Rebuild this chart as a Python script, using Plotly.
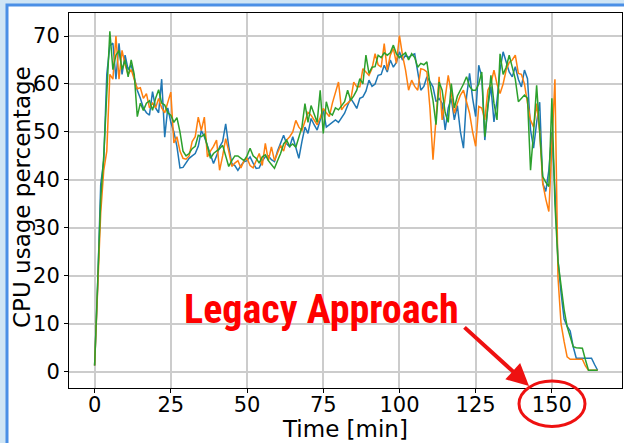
import plotly.graph_objects as go

minutes = list(range(0, 166))

cpu_blue = [
    1.3, 18, 39, 44, 62, 68, 68.5, 61, 68.5, 62,
    66, 63, 64, 61, 58.7, 57, 55, 54, 53.5, 58.4,
    55, 54, 61, 48.9, 55, 52, 50, 47, 42.5, 42.6,
    43.5, 44.5, 45, 45.5, 47, 50.3, 49, 47, 45, 43.4,
    45, 46.9, 48, 51.7, 47, 43.4, 43, 42, 43, 43.8,
    44, 44.8, 43.5, 42.4, 42.5, 44, 44.8, 45, 44.2, 43.8,
    46, 47.5, 49.3, 47.5, 46.9, 49, 47, 44.5, 48, 51,
    49.7, 52.8, 51.5, 50.4, 52.5, 54.6, 51, 51.5, 52, 52.5,
    52, 53, 53.9, 55.5, 57, 56, 54.9, 57, 57.3, 58.5,
    60.8, 59.5, 60, 61.8, 62, 63.9, 62.5, 65, 63.5, 64.5,
    66.7, 65, 66, 65.5, 66, 66.3, 62.9, 58.7, 59.5, 61.5,
    60.5, 59.4, 56.3, 57, 56, 50.4, 55, 57, 52.5, 55.5,
    50, 46.6, 57.3, 62.2, 57, 53.2, 63.9, 61.5, 48.3, 55.3,
    59.5, 52.1, 56.6, 63, 66.7, 64.3, 62.5, 61.5, 63.6, 61,
    59.4, 62.9, 61.1, 50.4, 46.6, 52, 56.2, 39.3, 37.6, 42,
    50, 38, 23.3, 16.5, 11, 9.5, 8.5, 5.2, 2.8, 2.8,
    2.8, 2.8, 2.8, 2.8, 1.5, 0.3,
]

cpu_orange = [
    1.3, 16, 33, 42, 46, 62, 61, 70, 61, 67,
    64, 62, 63, 61, 59, 59.2, 57, 58, 55, 56,
    55, 57, 55, 54, 56, 58.3, 47.7, 49, 46, 44.5,
    44.3, 45, 48, 49, 53.1, 50.3, 53.1, 44.8, 46, 47,
    48.3, 42, 45, 48.6, 46, 42.8, 43.5, 44, 42.5, 44,
    44.5, 43, 42.5, 44, 45.5, 43, 47.6, 44, 46.9, 44,
    45.5, 47.2, 46, 48.3, 49, 50, 52.4, 51, 50.3, 52,
    54.1, 53.5, 52.4, 51.5, 53, 54.9, 54, 53.2, 56, 58,
    60.4, 54.6, 55.5, 56, 56.6, 60.4, 59.4, 59.4, 63.2, 62.5,
    61.8, 63.2, 66.3, 64, 63.5, 68.4, 62.9, 66, 67.4, 64.3,
    70.1, 66, 62.9, 58.7, 60.8, 59.5, 58.7, 63.2, 63, 62.5,
    55, 44.2, 52.5, 61.5, 52.5, 57, 61.8, 58, 53.9, 56,
    57.7, 58.7, 56, 53.9, 50, 47, 55.3, 55, 52.5, 58.7,
    60, 62.9, 60, 58, 60, 62.9, 64.5, 65, 66, 62.2,
    62, 60, 56, 52.5, 51, 55.9, 50, 39.3, 36, 33.4,
    47, 61, 19.7, 10, 6.3, 3.1, 2.6, 2.6, 2.6, 2.6,
    2.6, 1.2, 0.3, 0.3, 0.3, 0.3,
]

cpu_green = [
    1.3, 17, 36, 45, 58, 71, 63, 66, 67, 63,
    65, 61.5, 65, 62, 53.2, 56, 54.5, 56, 56.5, 54.5,
    57, 58.8, 56, 55.6, 54, 53.5, 52, 53, 50, 46,
    45, 45.5, 46.5, 47, 49.3, 49, 49.5, 47, 44.5, 45.5,
    46, 46.5, 47.2, 45, 42.8, 44, 45, 45, 44.5, 44,
    45, 46.6, 45, 44.5, 43.5, 44.8, 45.2, 44, 43.2, 42.4,
    44, 45.5, 47.5, 48.3, 47, 47.5, 46.8, 49, 51, 55.9,
    52, 55.5, 53.5, 52, 58.7, 49.7, 56.3, 54, 53.5, 55,
    54.6, 55.5, 56.3, 58.7, 56.6, 57.5, 58.7, 61.1, 60, 66,
    62.2, 63.5, 63.6, 66, 65.5, 66.5, 66, 66.5, 68.1, 66.3,
    65.5, 66, 66.5, 65, 66.3, 65.5, 63.5, 64.3, 64, 64.6,
    60, 56.6, 51.5, 60.4, 58.7, 54, 52, 60.1, 55, 57.5,
    58.7, 60, 61.5, 59.5, 58.7, 58.7, 60, 62.5, 49, 55,
    61.8, 56, 52.5, 66.3, 62, 63.5, 66, 63.5, 61, 56.3,
    57, 57.7, 57, 42, 50, 59.7, 50, 40.7, 39.5, 38.6,
    57, 35, 23, 18, 13, 9.4, 7.5, 5.2, 5, 5,
    4.9, 2.5, 0.3, 0.3, 0.3, 0.3,
]

x_ticks = [0, 25, 50, 75, 100, 125, 150]
y_ticks = [0, 10, 20, 30, 40, 50, 60, 70]

W, H = 624, 443
L, R, T, B = 69, 2, 13, 55
pw, ph = W - L - R, H - T - B


def px(xp):
    return (xp - L) / pw


def py(yp):
    return (H - B - yp) / ph


fig = go.Figure()
for vals, col in [(cpu_blue, "#1f77b4"), (cpu_orange, "#ff7f0e"), (cpu_green, "#2ca02c")]:
    fig.add_trace(go.Scatter(x=minutes, y=vals, mode="lines",
                             line=dict(color=col, width=1.5), showlegend=False))

axis_common = dict(showline=True, linecolor="black", linewidth=1, mirror=True,
                   showgrid=True, gridcolor="#cccccc", gridwidth=1.5,
                   ticks="outside", ticklen=4, tickcolor="black",
                   tickfont=dict(family="DejaVu Sans", size=21, color="black"),
                   zeroline=False, automargin=False)

title_font = dict(family="DejaVu Sans", size=23, color="black")

fig.update_xaxes(range=[-8.4, 173], tickvals=x_ticks, ticklabelstandoff=-6, **axis_common)
fig.update_yaxes(range=[-3.4, 74.8], tickvals=y_ticks, **axis_common)

shapes = [
    dict(type="rect", xref="paper", yref="paper", layer="below",
         x0=px(7), x1=px(700), y0=py(500), y1=py(5),
         fillcolor="white", line=dict(color="#4a8fe6", width=3)),
    dict(type="circle", xref="paper", yref="paper",
         x0=px(519), x1=px(585), y0=py(426.5), y1=py(381),
         line=dict(color="#ee1111", width=3)),
]

annotations = [
    dict(xref="paper", yref="paper", x=px(345), y=py(429), text="Time [min]",
         showarrow=False, xanchor="center", yanchor="middle", font=title_font),
    dict(xref="paper", yref="paper", x=px(22), y=py(197), text="CPU usage percentage",
         showarrow=False, xanchor="center", yanchor="middle", textangle=-90, font=title_font),
    dict(xref="paper", yref="paper", x=px(321), y=py(309), text="<b>Legacy Approach</b>",
         showarrow=False, xanchor="center", yanchor="middle",
         font=dict(family="Liberation Sans Narrow, Roboto Condensed, Liberation Sans", size=40, color="#ff0000")),
    dict(xref="paper", yref="paper", x=px(529), y=py(386), text="",
         showarrow=True, arrowhead=2, arrowsize=1.1, arrowwidth=4, arrowcolor="#ee1111",
         ax=463 - 529, ay=326 - 386),
]

fig.update_layout(width=W, height=H, margin=dict(l=L, r=R, t=T, b=B),
                  paper_bgcolor="#cfe5f5", plot_bgcolor="white",
                  shapes=shapes, annotations=annotations)

fig.write_html("out.html", config={"displayModeBar": False},
               post_script="document.body.style.margin='0';document.body.style.background='#cfe5f5';")
